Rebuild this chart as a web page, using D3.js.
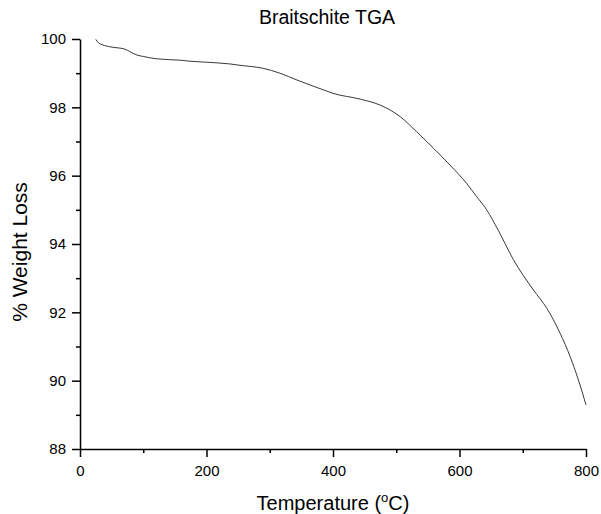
<!DOCTYPE html>
<html>
<head>
<meta charset="utf-8">
<script src="https://cdn.jsdelivr.net/npm/d3@7"></script>
<style>
  body { margin: 0; background: #fff; }
  svg { display: block; font-family: "Liberation Sans", Arial, sans-serif; }
</style>
</head>
<body>
<div id="chart"></div>
<script>
// TGA curve
var temperature = [25, 29, 33, 45, 60, 70, 80, 90, 100, 121, 158, 174, 200, 237, 253, 290, 316, 343, 385, 400, 443, 474, 506, 532, 559, 585, 611, 627, 643, 661, 685, 717, 738, 759, 775, 788, 800];
var weight = [99.99, 99.89, 99.85, 99.78, 99.74, 99.71, 99.62, 99.53, 99.49, 99.42, 99.38, 99.35, 99.32, 99.27, 99.23, 99.14, 99.0, 98.8, 98.51, 98.41, 98.24, 98.07, 97.73, 97.29, 96.80, 96.31, 95.78, 95.39, 95.0, 94.41, 93.55, 92.65, 92.12, 91.39, 90.70, 90.02, 89.29];
var xTicks = [0, 200, 400, 600, 800];
var xMinor = [100, 300, 500, 700];
var yTicks = [88, 90, 92, 94, 96, 98, 100];
var yMinor = [89, 91, 93, 95, 97, 99];

var W = 601, H = 514;
var plotL = 80, plotR = 586, plotT = 39, plotB = 449;

var svg = d3.select("#chart").append("svg")
  .attr("width", W).attr("height", H);

var x = d3.scaleLinear().domain([0, 800]).range([plotL, plotR]);
var y = d3.scaleLinear().domain([88, 100]).range([plotB, plotT]);

// minor ticks first, majors with labels on top
svg.append("g")
  .attr("transform", "translate(0," + plotB + ")")
  .call(d3.axisBottom(x).tickValues(xMinor).tickSize(4).tickFormat(""))
  .call(function(g) { g.select(".domain").remove(); });
svg.append("g")
  .attr("transform", "translate(" + plotL + ",0)")
  .call(d3.axisLeft(y).tickValues(yMinor).tickSize(4).tickFormat(""))
  .call(function(g) { g.select(".domain").remove(); });

svg.append("g")
  .attr("transform", "translate(0," + plotB + ")")
  .call(d3.axisBottom(x).tickValues(xTicks).tickSize(8).tickSizeOuter(0).tickPadding(8));
svg.append("g")
  .attr("transform", "translate(" + plotL + ",0)")
  .call(d3.axisLeft(y).tickValues(yTicks).tickSize(8).tickSizeOuter(0).tickPadding(6));

svg.selectAll(".tick line, .domain")
  .attr("stroke", "#000").attr("stroke-width", 1.5);
svg.selectAll(".tick text")
  .attr("font-size", 15).attr("fill", "#000")
  .style("font-family", "'Liberation Sans', Arial, sans-serif");

// curve
var line = d3.line()
  .x(function(d, i) { return x(temperature[i]); })
  .y(function(d) { return y(d); })
  .curve(d3.curveMonotoneX);

svg.append("path")
  .datum(weight)
  .attr("d", line)
  .attr("fill", "none")
  .attr("stroke", "#222")
  .attr("stroke-width", 0.9);

// titles
svg.append("text")
  .attr("x", 327).attr("y", 24)
  .attr("text-anchor", "middle")
  .attr("font-size", 19.5)
  .text("Braitschite TGA");

var xt = svg.append("text")
  .attr("x", 333).attr("y", 510)
  .attr("text-anchor", "middle")
  .attr("font-size", 20);
xt.append("tspan").text("Temperature (");
xt.append("tspan").attr("font-size", 13).attr("dy", -8).text("o");
xt.append("tspan").attr("dy", 8).text("C)");

svg.append("text")
  .attr("transform", "translate(27,252) rotate(-90)")
  .attr("text-anchor", "middle")
  .attr("font-size", 21)
  .text("% Weight Loss");
</script>
</body>
</html>
